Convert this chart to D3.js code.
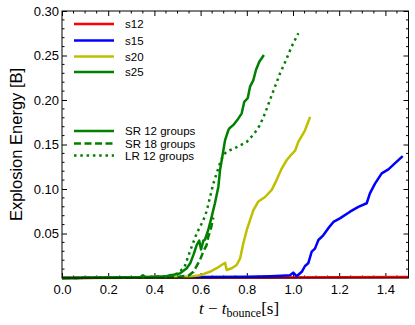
<!DOCTYPE html>
<meta charset="utf-8">
<script src="https://d3js.org/d3.v7.min.js"></script>
<style>
  body { margin: 0; background: #fff; }
  text { font-family: "Liberation Sans", Arial, sans-serif; }
</style>
<div id="chart"></div>
<script>

// explosion energy [B] vs t - t_bounce [s]
var s12 = [[0,0],[0.3,0.0003],[0.6,0.0005],[0.9,0.0005],[1.2,0.0008],[1.5,0.001]];
var s15 = [[0,0],[0.3,0.0005],[0.6,0.001],[0.8,0.0015],[0.9,0.002],[0.95,0.0025],[0.987,0.003],
  [1.001,0.006],[1.016,0.002],[1.038,0.007],[1.052,0.0135],[1.066,0.0165],[1.081,0.0296],[1.095,0.033],
  [1.11,0.0427],[1.131,0.048],[1.153,0.056],[1.175,0.063],[1.203,0.067],[1.247,0.0745],[1.283,0.08],
  [1.319,0.084],[1.333,0.095],[1.355,0.106],[1.384,0.1176],[1.413,0.122],[1.442,0.129],[1.475,0.137]];
var s20 = [[0,0],[0.3,0.0005],[0.5,0.001],[0.554,0.0015],[0.597,0.003],[0.64,0.007],[0.67,0.011],
  [0.691,0.0146],[0.706,0.017],[0.713,0.009],[0.735,0.011],[0.756,0.0146],[0.771,0.022],[0.785,0.039],
  [0.8,0.054],[0.814,0.065],[0.828,0.076],[0.85,0.086],[0.879,0.091],[0.908,0.099],[0.929,0.11],
  [0.951,0.123],[0.973,0.1326],[0.994,0.139],[1.009,0.143],[1.023,0.153],[1.052,0.166],[1.074,0.181]];
var s25sr12 = [[0,0],[0.2,0.0005],[0.34,0.001],[0.35,0.003],[0.36,0.001],[0.45,0.002],[0.51,0.005],
  [0.54,0.011],[0.555,0.0165],[0.569,0.026],[0.583,0.037],[0.594,0.042],[0.602,0.032],[0.612,0.042],
  [0.619,0.043],[0.633,0.054],[0.648,0.069],[0.662,0.084],[0.677,0.1026],[0.684,0.121],[0.695,0.138],
  [0.706,0.155],[0.72,0.166],[0.724,0.168],[0.742,0.172],[0.763,0.179],[0.778,0.185],[0.789,0.198],
  [0.804,0.202],[0.814,0.215],[0.828,0.222],[0.84,0.234],[0.854,0.243],[0.874,0.2506]];
var s25sr18 = [[0,0],[0.3,0.0005],[0.5,0.001],[0.55,0.003],[0.569,0.007],[0.597,0.02],[0.612,0.03],
  [0.626,0.037],[0.633,0.046],[0.645,0.056],[0.655,0.068]];
var s25lr12 = [[0,0],[0.3,0.0005],[0.45,0.002],[0.5,0.005],[0.53,0.012],[0.554,0.03],[0.583,0.05],
  [0.612,0.065],[0.626,0.075],[0.641,0.091],[0.655,0.106],[0.67,0.118],[0.684,0.129],[0.698,0.138],
  [0.713,0.142],[0.749,0.146],[0.8,0.153],[0.821,0.159],[0.843,0.166],[0.857,0.172],[0.879,0.185],
  [0.9,0.2],[0.922,0.215],[0.944,0.23],[0.97,0.245],[0.994,0.26],[1.023,0.275]];

var xTicks = [0, 0.2, 0.4, 0.6, 0.8, 1.0, 1.2, 1.4];
var yTicks = [0.05, 0.10, 0.15, 0.20, 0.25, 0.30];
var modelNames = ["s12", "s15", "s20", "s25"];
var resNames = ["SR 12 groups", "SR 18 groups", "LR 12 groups"];

var W = 415, H = 325;
var pl = 62, pr = 408.5, pt = 11, pb = 278;

var svg = d3.select("#chart").append("svg")
  .attr("width", W).attr("height", H);

var x = d3.scaleLinear().domain([0, 1.5]).range([pl, pr]);
var y = d3.scaleLinear().domain([0, 0.3]).range([pb, pt]);

// axes, ticks pointing in
svg.append("g").attr("transform", "translate(0," + pb + ")")
  .call(d3.axisBottom(x).tickValues(xTicks).tickSizeInner(-5).tickSizeOuter(0).tickPadding(7)
    .tickFormat(d3.format(".1f")))
  .call(g => g.select(".domain").remove())
  .selectAll("text").attr("font-size", 13).attr("fill", "#000");

svg.append("g").attr("transform", "translate(" + pl + ",0)")
  .call(d3.axisLeft(y).tickValues(yTicks).tickSizeInner(-5).tickSizeOuter(0).tickPadding(3)
    .tickFormat(d3.format(".2f")))
  .call(g => g.select(".domain").remove())
  .selectAll("text").attr("font-size", 13).attr("fill", "#000");

svg.append("g").attr("transform", "translate(0," + pt + ")")
  .call(d3.axisTop(x).tickValues(xTicks).tickSizeInner(-5).tickSizeOuter(0).tickFormat(""))
  .call(g => g.select(".domain").remove());

svg.append("g").attr("transform", "translate(" + pr + ",0)")
  .call(d3.axisRight(y).tickValues(yTicks).tickSizeInner(-5).tickSizeOuter(0).tickFormat(""))
  .call(g => g.select(".domain").remove());

// minor ticks
var xMinor = d3.range(0.05, 1.5, 0.05).filter(d => Math.abs(d / 0.2 - Math.round(d / 0.2)) > 1e-6);
var yMinor = d3.range(0.01, 0.3, 0.01).filter(d => Math.abs(d / 0.05 - Math.round(d / 0.05)) > 1e-6);
var minor = svg.append("g").attr("stroke", "#000").attr("stroke-width", 1);
xMinor.forEach(function(d) {
  minor.append("line").attr("x1", x(d)).attr("x2", x(d)).attr("y1", pb).attr("y2", pb - 2.5);
  minor.append("line").attr("x1", x(d)).attr("x2", x(d)).attr("y1", pt).attr("y2", pt + 2.5);
});
yMinor.forEach(function(d) {
  minor.append("line").attr("y1", y(d)).attr("y2", y(d)).attr("x1", pl).attr("x2", pl + 2.5);
  minor.append("line").attr("y1", y(d)).attr("y2", y(d)).attr("x1", pr).attr("x2", pr - 2.5);
});

// curves
var line = d3.line().x(d => x(d[0])).y(d => y(d[1]));
var series = [
  {data: s12, color: "#ff0000", dash: null},
  {data: s15, color: "#0000ff", dash: null},
  {data: s20, color: "#bfbf00", dash: null},
  {data: s25lr12, color: "#008000", dash: "2.5,3.8"},
  {data: s25sr18, color: "#008000", dash: "7,3.5"},
  {data: s25sr12, color: "#008000", dash: null}
];
svg.append("g").selectAll("path").data(series).join("path")
  .attr("d", d => line(d.data))
  .attr("fill", "none")
  .attr("stroke", d => d.color)
  .attr("stroke-width", 2.5)
  .attr("stroke-dasharray", d => d.dash)
  .attr("stroke-linejoin", "round");

// frame
svg.append("rect").attr("x", pl).attr("y", pt)
  .attr("width", pr - pl).attr("height", pb - pt)
  .attr("fill", "none").attr("stroke", "#000").attr("stroke-width", 1);

// legends
var legColors = ["#ff0000", "#0000ff", "#bfbf00", "#008000"];
var legY1 = [24, 40.5, 56.5, 72];
modelNames.forEach(function(n, i) {
  svg.append("line").attr("x1", 74).attr("x2", 114).attr("y1", legY1[i]).attr("y2", legY1[i])
    .attr("stroke", legColors[i]).attr("stroke-width", 2.5);
  svg.append("text").attr("x", 125).attr("y", legY1[i]).attr("dy", "0.35em")
    .attr("font-size", 11.5).text(n);
});
var legY2 = [131, 143.5, 155.5];
var legDash = [null, "7,3.5", "2.5,3.8"];
resNames.forEach(function(n, i) {
  svg.append("line").attr("x1", 74).attr("x2", 114).attr("y1", legY2[i]).attr("y2", legY2[i])
    .attr("stroke", "#008000").attr("stroke-width", 2.5).attr("stroke-dasharray", legDash[i]);
  svg.append("text").attr("x", 125).attr("y", legY2[i]).attr("dy", "0.35em")
    .attr("font-size", 11.5).text(n);
});

// axis titles
svg.append("text")
  .attr("transform", "translate(22," + ((pt + pb) / 2) + ") rotate(-90)")
  .attr("text-anchor", "middle").attr("font-size", 16.5)
  .text("Explosion Energy [B]");

var xl = svg.append("text").attr("x", 239).attr("y", 314).attr("text-anchor", "middle")
  .style("font-family", "'Liberation Serif', 'DejaVu Serif', serif").attr("font-size", 17);
xl.append("tspan").attr("font-style", "italic").text("t");
xl.append("tspan").text(" \u2212 ");
xl.append("tspan").attr("font-style", "italic").text("t");
xl.append("tspan").attr("font-size", 12).attr("dy", 3).text("bounce");
xl.append("tspan").attr("dy", -3).text("[s]");

</script>
